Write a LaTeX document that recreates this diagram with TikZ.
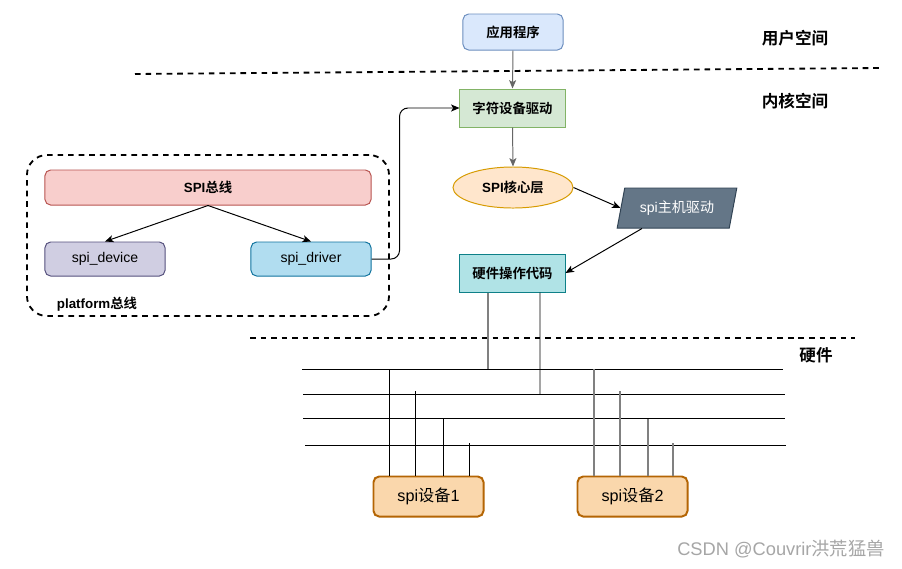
\documentclass[tikz,border=0pt]{standalone}
\usepackage{fontspec}
\setmainfont{Liberation Sans}
\newfontfamily\cjk{Noto Sans CJK SC}[BoldFont={Noto Sans CJK SC Bold}]
\newcommand{\zh}[1]{{\cjk #1}}
\usepackage{tikz}
\usepackage{xcolor}
\usetikzlibrary{shapes.geometric,arrows.meta}
\definecolor{appfill}{HTML}{DAE8FC}
\definecolor{appdraw}{HTML}{6C8EBF}
\definecolor{chrfill}{HTML}{D5E8D4}
\definecolor{chrdraw}{HTML}{82B366}
\definecolor{corefill}{HTML}{FFE6CC}
\definecolor{coredraw}{HTML}{D79B00}
\definecolor{hostfill}{HTML}{647687}
\definecolor{hostdraw}{HTML}{314354}
\definecolor{hwfill}{HTML}{B0E3E6}
\definecolor{hwdraw}{HTML}{0E8088}
\definecolor{busfill}{HTML}{F8CECC}
\definecolor{busdraw}{HTML}{B85450}
\definecolor{devfill}{HTML}{D0CEE2}
\definecolor{devdraw}{HTML}{56517E}
\definecolor{drvfill}{HTML}{B1DDF0}
\definecolor{drvdraw}{HTML}{10739E}
\definecolor{chipfill}{HTML}{FAD7AC}
\definecolor{chipdraw}{HTML}{B46504}
\definecolor{linkgray}{HTML}{666666}
\tikzset{
    flow-box/.style = {rectangle, line width=0.7pt, inner sep=0pt, align=center, font=\fontsize{9.5}{11}\selectfont\bfseries},
    round-box/.style = {flow-box, rounded corners=4pt, font=\fontsize{10}{12}\selectfont},
    chip-box/.style = {round-box, draw=chipdraw, fill=chipfill, line width=1.4pt, minimum width=27.5mm, minimum height=10mm, font=\fontsize{11.5}{13}\selectfont},
    space-label/.style = {font=\fontsize{11.8}{14}\selectfont\bfseries},
    border-line/.style = {line width=1.3pt, dash pattern=on 4pt off 3.5pt},
    link/.style = {line width=0.7pt, -{Stealth[length=6pt,width=5pt,inset=1.5pt]}},
    bus-line/.style = {line width=0.7pt},
    pin-line/.style = {line width=0.9pt, color=gray},
}
\begin{document}
\begin{tikzpicture}[x=0.025cm, y=-0.025cm]
\fill[white] (0,0) rectangle (902,568);
% user space / kernel
\node [flow-box, draw=appdraw, fill=appfill, rounded corners=4pt, minimum width=25mm, minimum height=9mm] (app) at (513,32) {\zh{应用程序}};
\node [flow-box, draw=chrdraw, fill=chrfill, minimum width=26.25mm, minimum height=9.5mm] (chrdrv) at (512.5,108) {\zh{字符设备驱动}};
\node [flow-box, ellipse, draw=coredraw, fill=corefill, minimum width=30mm, minimum height=10.25mm] (core) at (513,187.5) {SPI\zh{核心层}};
\node [flow-box, trapezium, trapezium left angle=70, trapezium right angle=110, trapezium stretches=true, draw=hostdraw, fill=hostfill, text=white, minimum width=30mm, minimum height=10mm, font=\fontsize{10}{12}\selectfont] (host) at (677,208) {spi\zh{主机驱动}};
\node [flow-box, draw=hwdraw, fill=hwfill, minimum width=26.25mm, minimum height=9.5mm] (hw) at (512.5,273) {\zh{硬件操作代码}};
\node [space-label] (user) at (795,38) {\zh{用户空间}};
\node [space-label] (kernel) at (795,101) {\zh{内核空间}};
\node [space-label] (hwlabel) at (816,355) {\zh{硬件}};
\draw [border-line] (135,74) -- (880,68);
\draw [border-line] (250,338) -- (855,338);
% platform bus
\node [draw, border-line, rounded corners=5mm, minimum width=90.5mm, minimum height=40.25mm] (platform) at (208,235.5) {};
\node [flow-box, draw=busdraw, fill=busfill, rounded corners=4pt, minimum width=81.5mm, minimum height=8.75mm] (spibus) at (208,187.5) {SPI\zh{总线}};
\node [round-box, draw=devdraw, fill=devfill, minimum width=30mm, minimum height=8.5mm] (spidev) at (105,259) {spi\_device};
\node [round-box, draw=drvdraw, fill=drvfill, minimum width=30mm, minimum height=8.5mm] (spidrv) at (311,259) {spi\_driver};
\node [flow-box] (platlabel) at (97,304) {platform\zh{总线}};
\draw [link] (spibus.south) -- (spidev.north);
\draw [link] (spibus.south) -- (spidrv.north);
\draw [link, rounded corners=6pt] (spidrv.east) -- ++(28,0) |- (chrdrv.west);
\draw [link, color=linkgray] (app.south) -- (chrdrv.north);
\draw [link, color=linkgray] (chrdrv.south) -- (core.north);
\draw [link] (core.east) -- (host.west);
\draw [link] ([xshift=-35*0.25mm]host.south) -- (hw.east);
% hardware bus
\foreach \y/\xa/\xb in {369/302/783, 394/303/785, 418/303/785, 445/305/786}
    \draw [bus-line] (\xa,\y) -- (\xb,\y);
\node [chip-box] (chip1) at (428.5,496.5) {spi\zh{设备}1};
\node [chip-box] (chip2) at (632.5,496.5) {spi\zh{设备}2};
\draw [pin-line] (hw.south) ++(-24.5,0) -- (488,369);
\draw [bus-line] (hw.south) ++(27.5,0) -- (540,394);
\foreach \x/\y in {389/369, 415/391, 443/419, 469/443}
    \draw [bus-line] (\x,\y) -- (\x,\y |- chip1.north);
\foreach \x/\y in {594/369, 620/391, 648/419, 673/443}
    \draw [pin-line] (\x,\y) -- (\x,\y |- chip2.north);
\node [text=gray!70, font=\fontsize{13}{15}\selectfont] (mark) at (781,549) {CSDN @Couvrir\zh{洪荒猛兽}};
\end{tikzpicture}
\end{document}
